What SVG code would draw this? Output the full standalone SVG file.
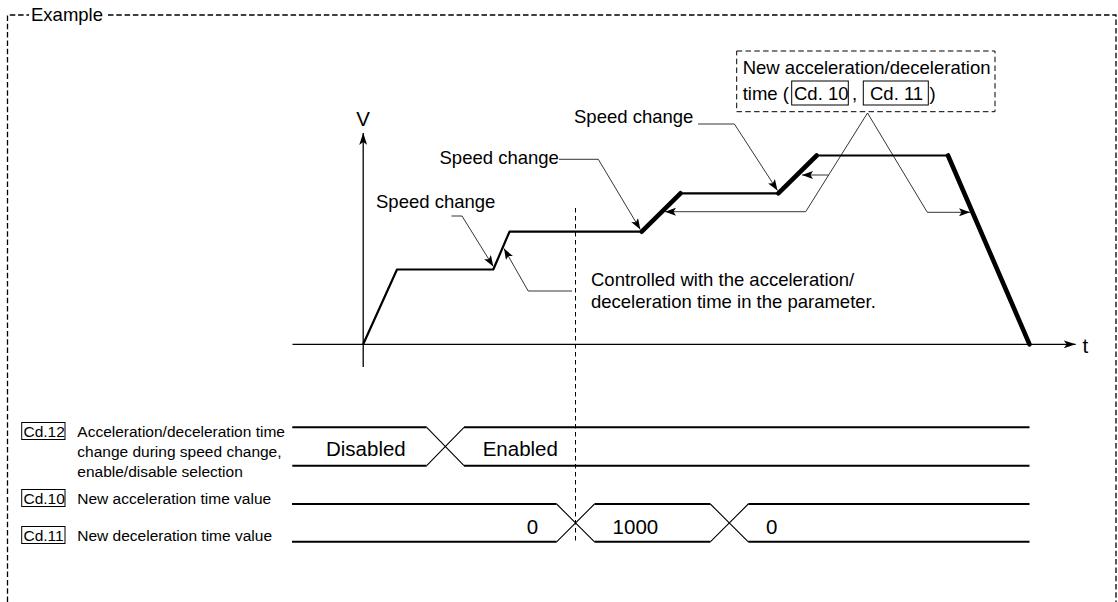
<svg xmlns="http://www.w3.org/2000/svg" width="1118" height="602" viewBox="0 0 1118 602">
<style>
text{font-family:"Liberation Sans",Arial,sans-serif;fill:#000}
.t18{font-size:18.5px}
.t20{font-size:20.5px}
.t15{font-size:15.5px}
.frame{fill:none;stroke:#000;stroke-width:1.3;stroke-dasharray:5.5 2.8}
.callbox{fill:none;stroke:#000;stroke-width:1;stroke-dasharray:5.5 3.3}
.vdash{fill:none;stroke:#000;stroke-width:1;stroke-dasharray:4.5 3.5}
.axis{fill:none;stroke:#000;stroke-width:1.3}
.prof{fill:none;stroke:#000;stroke-width:2.2;stroke-linejoin:round}
.thick{fill:none;stroke:#000;stroke-width:4.6;stroke-linecap:round}
.lead{fill:none;stroke:#000;stroke-width:0.8}
.bus{fill:none;stroke:#000;stroke-width:2}
.cross{fill:none;stroke:#000;stroke-width:1.1}
.box{fill:#fff;stroke:#000;stroke-width:1}
</style>
<defs>
<marker id="ah" viewBox="0 0 11 8" refX="11" refY="4" markerWidth="11" markerHeight="8" orient="auto" markerUnits="userSpaceOnUse"><path d="M0,0 L11,4 L0,8 L2.5,4 z" fill="#000"/></marker>
<marker id="ax" viewBox="0 0 12 8" refX="12" refY="4" markerWidth="12" markerHeight="8" orient="auto" markerUnits="userSpaceOnUse"><path d="M0,0 L12,4 L0,8 L3,4 z" fill="#000"/></marker>
</defs>

<g id="frame">
<path class="frame" d="M7.5,602 V15 H29"/>
<path class="frame" d="M108,15 H1116 V602"/>
<text class="t18" x="31" y="20.5">Example</text>
</g>

<g id="axes">
<path class="axis" d="M363.2,367 V133" marker-end="url(#ax)"/>
<path class="axis" d="M292.5,344.3 H1075.7" marker-end="url(#ax)"/>
<text class="t20" x="363.2" y="126" text-anchor="middle">V</text>
<text class="t20" x="1082.5" y="353.3">t</text>
</g>

<g id="divider">
<path class="vdash" d="M575.5,208 V541"/>
</g>

<g id="profile">
<path class="prof" d="M363.2,344.3 L397,269.5 H493.3 L509.5,231.7 H641.7 M680.5,193.3 H778.3 M816.7,155.5 H948"/>
<path class="thick" d="M641.7,231.7 L680.5,193.3"/>
<path class="thick" d="M778.3,193.3 L816.7,155.5"/>
<path class="thick" d="M948,155.5 L1029.5,344.3"/>
</g>

<g id="label-speed1"><text class="t18" x="376" y="208">Speed change</text></g>
<g id="label-speed2"><text class="t18" x="439.5" y="164">Speed change</text></g>
<g id="label-speed3"><text class="t18" x="574" y="123">Speed change</text></g>
<g id="label-controlled">
<text class="t18" x="591" y="286">Controlled with the acceleration/</text>
<text class="t18" x="591" y="308.3">deceleration time in the parameter.</text>
</g>

<g id="callout">
<rect class="callbox" x="736.7" y="51" width="258.3" height="60.7"/>
<text class="t18" x="742.7" y="74.3">New acceleration/deceleration</text>
<text class="t18" x="742.7" y="100">time (</text>
<rect class="box" x="791.7" y="81" width="56.6" height="24"/>
<text class="t18" x="794" y="100">Cd. 10</text>
<text class="t18" x="852" y="100">,</text>
<rect class="box" x="863.3" y="81" width="65" height="24"/>
<text class="t18" x="870" y="100">Cd. 11</text>
<text class="t18" x="929.5" y="100">)</text>
</g>

<g id="connectors">
<path class="lead" d="M451.5,216 H462 L493.3,266.5" marker-end="url(#ah)"/>
<path class="lead" d="M559,159.3 H598.3 L640.3,229.5" marker-end="url(#ah)"/>
<path class="lead" d="M698,124 H734.4 L777.5,190.5" marker-end="url(#ah)"/>
<path class="lead" d="M572,291 H528.2 L504,248.5" marker-end="url(#ah)"/>
<path class="lead" d="M867.5,113 L805.7,211.7 H665" marker-end="url(#ah)"/>
<path class="lead" d="M828.4,175 H802" marker-end="url(#ah)"/>
<path class="lead" d="M867.5,113 L927.3,212.3 H970" marker-end="url(#ah)"/>
</g>

<g id="row-cd12">
<rect class="box" x="21.7" y="422.5" width="43.3" height="17"/>
<text class="t15" x="23.5" y="436.5">Cd.12</text>
<text class="t15" x="77.3" y="436.5">Acceleration/deceleration time</text>
<text class="t15" x="77.3" y="456.5">change during speed change,</text>
<text class="t15" x="77.3" y="476.5">enable/disable selection</text>
<path class="bus" d="M292.3,427.3 H426.7 M464,427.3 H1029.5 M292.3,465.7 H426.7 M464,465.7 H1029.5"/>
<path class="cross" d="M426.7,427.3 L464,465.7 M426.7,465.7 L464,427.3"/>
<text class="t20" x="326" y="455.7">Disabled</text>
<text class="t20" x="482.7" y="455.7">Enabled</text>
</g>

<g id="row-cd10">
<rect class="box" x="21.7" y="489.5" width="43.3" height="17"/>
<text class="t15" x="23.5" y="503.5">Cd.10</text>
<text class="t15" x="77.3" y="503.5">New acceleration time value</text>
</g>

<g id="row-cd11">
<rect class="box" x="21.7" y="526.5" width="43.3" height="17"/>
<text class="t15" x="23.5" y="540.5">Cd.11</text>
<text class="t15" x="77.3" y="540.5">New deceleration time value</text>
</g>

<g id="bus-cd10-11">
<path class="bus" d="M292,504 H556.6 M594.5,504 H710.3 M748.3,504 H1029.5 M292,541.8 H556.6 M594.5,541.8 H710.3 M748.3,541.8 H1029.5"/>
<path class="cross" d="M556.6,504 L594.5,541.8 M556.6,541.8 L594.5,504 M710.3,504 L748.3,541.8 M710.3,541.8 L748.3,504"/>
<text class="t20" x="526.8" y="533.5">0</text>
<text class="t20" x="612.6" y="533.5">1000</text>
<text class="t20" x="766" y="533.5">0</text>
</g>
</svg>
